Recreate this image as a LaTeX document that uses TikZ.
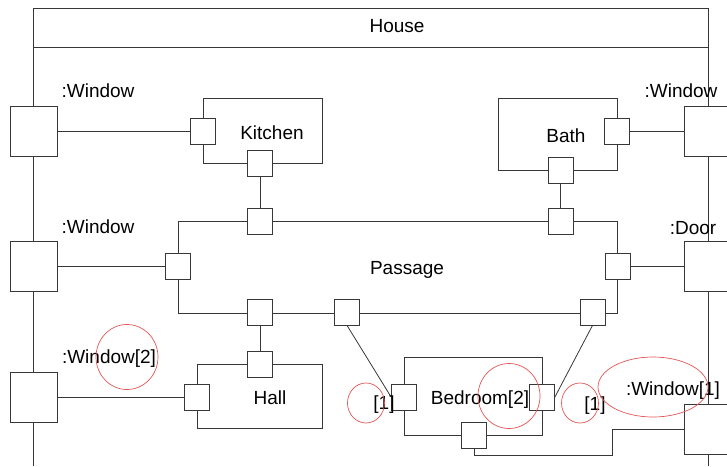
\documentclass[tikz,border=0pt]{standalone}
\usepackage{fontspec}
\setmainfont{Liberation Sans}
\usepackage{xcolor}
\usepackage{tikz}
\usetikzlibrary{shapes.geometric,positioning,calc}
\definecolor{lineGray}{RGB}{55,55,55}
\definecolor{markRed}{RGB}{226,84,84}
\tikzset{
  partbox/.style={
    rectangle, draw=lineGray, line width=0.8pt, fill=white, inner sep=0pt
  },
  portbox/.style={
    rectangle, draw=lineGray, line width=0.8pt, fill=white, inner sep=0pt,
    minimum width=25pt, minimum height=26pt
  },
  bigport/.style={portbox, minimum width=47pt, minimum height=50pt},
  tagtext/.style={inner sep=0pt, text height=13.6pt, text depth=0pt,
    font=\fontsize{19}{22}\selectfont},
  wire/.style={draw=lineGray, line width=0.8pt},
  markRing/.style={ellipse, draw=markRed, line width=0.7pt}
}

\begin{document}
\begin{tikzpicture}[x=1pt, y=-1pt]
        \useasboundingbox (0,0) rectangle (727,466);
        % house frame
        \draw[wire] (33,466) -- (33,8) -- (708,8) -- (708,466);
        \draw[wire] (33,47) -- (708,47);
        \node[tagtext] (house) at (397,26) {House};
        % parts
        \node[partbox, minimum width=119pt, minimum height=65pt] (kitchen) at (262.5,130.5) {};
        \node[partbox, minimum width=119pt, minimum height=72pt] (bath)    at (557.5,134)   {};
        \node[partbox, minimum width=439pt, minimum height=92pt] (passage) at (397.5,267)   {};
        \node[partbox, minimum width=125pt, minimum height=64pt] (hall)    at (259.5,396)   {};
        \node[partbox, minimum width=138pt, minimum height=78pt] (bedroom) at (473,396)     {};
        \node[tagtext] (kitchenlbl) at (272,133) {Kitchen};
        \node[tagtext] (bathlbl)    at (566,136) {Bath};
        \node[tagtext] (passagelbl) at (407,268) {Passage};
        \node[tagtext] (halllbl)    at (270,398) {Hall};
        \node[tagtext] (bedroomlbl) at (480,398) {Bedroom[2]};
        % ports
        \node[bigport] (winA) at (33.5,131)  {};
        \node[bigport] (winB) at (33.5,266)  {};
        \node[bigport] (winC) at (33.5,397)  {};
        \node[bigport] (winD) at (708,131)   {};
        \node[bigport] (door) at (708,266)   {};
        \node[bigport] (winE) at (708,429)   {};
        \node[portbox] (kitL)  at (203,131)   {};
        \node[portbox] (kitB)  at (260,163)   {};
        \node[portbox] (bathR) at (617,131)   {};
        \node[portbox] (bathB) at (560.5,170) {};
        \node[portbox] (pasT1) at (260,221)   {};
        \node[portbox] (pasT2) at (560.5,221) {};
        \node[portbox] (pasL)  at (178,266)   {};
        \node[portbox] (pasR)  at (617.5,266) {};
        \node[portbox] (pasB1) at (260,312)   {};
        \node[portbox] (pasB2) at (347,312)   {};
        \node[portbox] (pasB3) at (592.5,312) {};
        \node[portbox] (hallT) at (260,364)   {};
        \node[portbox] (hallL) at (197,397)   {};
        \node[portbox] (bedL)  at (404,397)   {};
        \node[portbox] (bedR)  at (542,397)   {};
        \node[portbox] (bedB)  at (474,435)   {};
        % connectors
        \draw[wire] (winA) -- (kitL);
        \draw[wire] (kitB) -- (pasT1);
        \draw[wire] (bathB) -- (pasT2);
        \draw[wire] (bathR) -- (winD);
        \draw[wire] (winB) -- (pasL);
        \draw[wire] (pasR) -- (door);
        \draw[wire] (pasB1) -- (hallT);
        \draw[wire] (winC) -- (hallL);
        \draw[wire] (pasB2.south) -- (bedL.west);
        \draw[wire] (pasB3.south) -- (bedR.east);
        \draw[wire] (bedB.south) |- (612,455) |- (winE.west);
        % port labels
        \node[tagtext] (lblA) at (98,91)   {:Window};
        \node[tagtext] (lblD) at (681,91)  {:Window};
        \node[tagtext] (lblB) at (98,227)  {:Window};
        \node[tagtext] (lblR) at (693,228) {:Door};
        \node[tagtext] (lblC) at (109,357) {:Window[2]};
        \node[tagtext] (lblE) at (673,389) {:Window[1]};
        \node[tagtext] (multL) at (384,403) {[1]};
        \node[tagtext] (multR) at (595,404) {[1]};
        % review marks
        \node[markRing, minimum width=62pt, minimum height=65pt] (ringC) at (127,357) {};
        \node[markRing, minimum width=37pt, minimum height=40pt] (ringL) at (366,403) {};
        \node[markRing, minimum width=62pt, minimum height=65pt] (ringB) at (509,396) {};
        \node[markRing, minimum width=37pt, minimum height=40pt] (ringR) at (580,403) {};
        \node[markRing, minimum width=110pt, minimum height=60pt] (ringE) at (653,387) {};
      \end{tikzpicture}
\end{document}
